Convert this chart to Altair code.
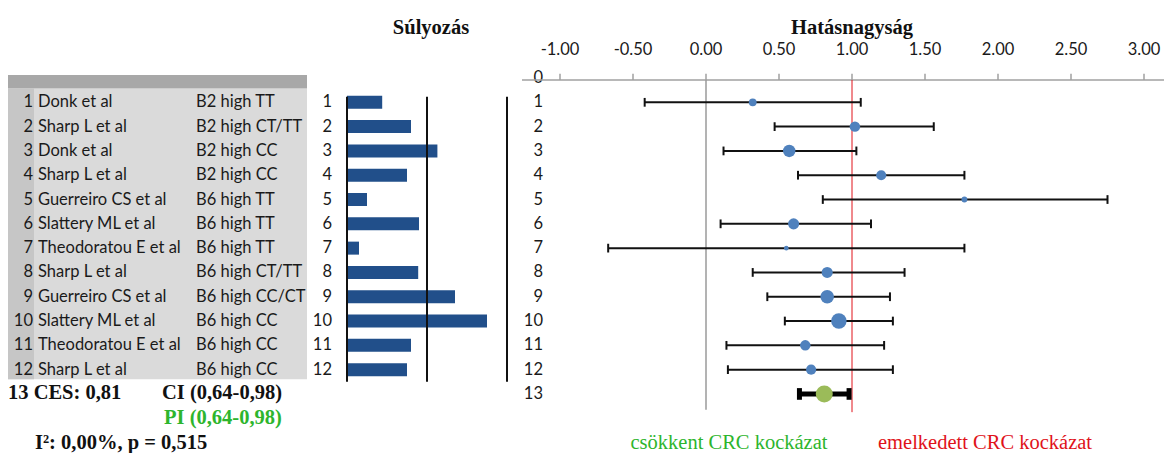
import altair as alt
import pandas as pd

# ---------------- data ----------------
rows = list(range(1, 13))
authors = ["Donk et al", "Sharp L et al", "Donk et al", "Sharp L et al",
           "Guerreiro CS et al", "Slattery ML et al", "Theodoratou E et al",
           "Sharp L et al", "Guerreiro CS et al", "Slattery ML et al",
           "Theodoratou E et al", "Sharp L et al"]
genotypes = ["B2 high  TT", "B2 high CT/TT", "B2 high CC", "B2 high CC",
             "B6 high TT", "B6 high TT", "B6 high TT", "B6 high CT/TT",
             "B6 high CC/CT", "B6 high CC", "B6 high CC", "B6 high CC"]
weights = [4.4, 8.0, 11.3, 7.5, 2.5, 9.0, 1.5, 8.9, 13.5, 17.5, 8.0, 7.5]
effects = [0.32, 1.02, 0.57, 1.20, 1.77, 0.60, 0.55, 0.83, 0.83, 0.91, 0.68, 0.72]
ci_low = [-0.42, 0.47, 0.12, 0.63, 0.80, 0.10, -0.67, 0.32, 0.42, 0.54, 0.14, 0.15]
ci_high = [1.06, 1.56, 1.03, 1.77, 2.75, 1.13, 1.77, 1.36, 1.26, 1.28, 1.22, 1.28]

pooled_row = [13]
pooled_est = [0.81]
pooled_lo = [0.64]
pooled_hi = [0.98]

forest_rows = list(range(0, 14))
tick_values = [-1.0, -0.5, 0.0, 0.5, 1.0, 1.5, 2.0, 2.5, 3.0]
tick_labels = ["-1.00", "-0.50", "0.00", "0.50", "1.00", "1.50", "2.00", "2.50", "3.00"]
weight_guides = [0, 10, 20]

studies = pd.DataFrame({"row": rows, "author": authors, "geno": genotypes,
                        "w": weights, "est": effects, "lo": ci_low, "hi": ci_high})
pooled = pd.DataFrame({"row": pooled_row, "est": pooled_est, "lo": pooled_lo, "hi": pooled_hi})
frows = pd.DataFrame({"row": forest_rows, "lab": [str(r) for r in forest_rows]})
ticks = pd.DataFrame({"v": tick_values, "lab": tick_labels})
wguides = pd.DataFrame({"g": weight_guides})

# ---------------- scales ----------------
Y = alt.Scale(domain=[-3.21, 15.43], reverse=True, nice=False, zero=False)
XF = alt.Scale(domain=[-1, 3], range=[560, 1144], nice=False, zero=False)
XW = alt.Scale(domain=[0, 20], range=[347, 507], nice=False, zero=False)

SANS = "Lato"
SERIF = "Liberation Serif"
FS = 16.5
SFS = 20.5


def y(field="row"):
    return alt.Y(field, type="quantitative", scale=Y, axis=None)


layers = []

# table background
bg = pd.DataFrame({"a": [-0.12], "b": [12.4]})
layers.append(alt.Chart(bg).mark_rect(color="#dadada").encode(
    x=alt.value(8), x2=alt.value(307), y=y("a"), y2="b"))
hdr = pd.DataFrame({"a": [-0.12], "b": [0.42]})
layers.append(alt.Chart(hdr).mark_rect(color="#a8a8a8").encode(
    x=alt.value(8), x2=alt.value(307), y=y("a"), y2="b"))
lcol = pd.DataFrame({"a": [0.42], "b": [12.4]})
layers.append(alt.Chart(lcol).mark_rect(color="#c6c6c6").encode(
    x=alt.value(8), x2=alt.value(34), y=y("a"), y2="b"))

# table text
layers.append(alt.Chart(studies).mark_text(align="right", baseline="middle", font=SANS,
                                           fontSize=FS, color="#1a1a1a").encode(
    x=alt.value(33), y=y(), text="row:N"))
layers.append(alt.Chart(studies).mark_text(align="left", baseline="middle", font=SANS,
                                           fontSize=FS, color="#1a1a1a").encode(
    x=alt.value(38), y=y(), text="author:N"))
layers.append(alt.Chart(studies).mark_text(align="left", baseline="middle", font=SANS,
                                           fontSize=FS, color="#1a1a1a").encode(
    x=alt.value(196), y=y(), text="geno:N"))

# weight panel
layers.append(alt.Chart(studies).mark_text(align="right", baseline="middle", font=SANS,
                                           fontSize=FS, color="#1a1a1a").encode(
    x=alt.value(332), y=y(), text="row:N"))
layers.append(alt.Chart(studies).mark_rule(color="#214f8a", strokeWidth=13, strokeCap="butt").encode(
    x=alt.X("zero:Q", scale=XW, axis=None), x2="w:Q", y=y()
).transform_calculate(zero="0"))
layers.append(alt.Chart(wguides).mark_rule(color="#111111", strokeWidth=2).encode(
    x=alt.X("g:Q", scale=XW, axis=None), y=y("a"), y2="b"
).transform_calculate(a="0.77", b="12.5"))

# forest panel: row numbers
layers.append(alt.Chart(frows).mark_text(align="right", baseline="middle", font=SANS,
                                         fontSize=FS, color="#1a1a1a").encode(
    x=alt.value(543), y=y(), text="lab:N"))

# axis line, ticks, labels
layers.append(alt.Chart(pd.DataFrame({"row": [0.08]})).mark_rule(color="#a0a0a0", strokeWidth=1.5).encode(
    x=alt.value(522), x2=alt.value(1164), y=y()))
layers.append(alt.Chart(ticks).mark_rule(color="#a0a0a0", strokeWidth=1.5).encode(
    x=alt.X("v:Q", scale=XF, axis=None), y=y("a"), y2="b"
).transform_calculate(a="0.08", b="-0.18"))
layers.append(alt.Chart(ticks).mark_text(align="center", baseline="middle", font=SANS,
                                         fontSize=FS, color="#1a1a1a").encode(
    x=alt.X("v:Q", scale=XF, axis=None), y=y("r"), text="lab:N"
).transform_calculate(r="-1.15"))

# reference lines
layers.append(alt.Chart(pd.DataFrame({"v": [0.0]})).mark_rule(color="#9a9a9a", strokeWidth=1.5).encode(
    x=alt.X("v:Q", scale=XF, axis=None), y=y("a"), y2="b"
).transform_calculate(a="0.08", b="13.65"))
layers.append(alt.Chart(pd.DataFrame({"v": [1.0]})).mark_rule(color="#e0121a", strokeWidth=1).encode(
    x=alt.X("v:Q", scale=XF, axis=None), y=y("a"), y2="b"
).transform_calculate(a="0.08", b="13.75"))

# study CIs
layers.append(alt.Chart(studies).mark_rule(color="#111111", strokeWidth=2).encode(
    x=alt.X("lo:Q", scale=XF, axis=None), x2="hi:Q", y=y()))
for f in ["lo", "hi"]:
    layers.append(alt.Chart(studies).mark_rule(color="#111111", strokeWidth=2).encode(
        x=alt.X(f"{f}:Q", scale=XF, axis=None), y=y("a"), y2="b"
    ).transform_calculate(a="datum.row - 0.18", b="datum.row + 0.18"))

# pooled CI
layers.append(alt.Chart(pooled).mark_rule(color="#000000", strokeWidth=5).encode(
    x=alt.X("lo:Q", scale=XF, axis=None), x2="hi:Q", y=y()))
for f in ["lo", "hi"]:
    layers.append(alt.Chart(pooled).mark_rule(color="#000000", strokeWidth=5).encode(
        x=alt.X(f"{f}:Q", scale=XF, axis=None), y=y("a"), y2="b"
    ).transform_calculate(a="datum.row - 0.24", b="datum.row + 0.24"))

# points
layers.append(alt.Chart(studies).mark_circle(color="#4f81bd", opacity=1).encode(
    x=alt.X("est:Q", scale=XF, axis=None), y=y(),
    size=alt.Size("w:Q", scale=alt.Scale(domain=[0, 17.5], range=[0, 240]), legend=None)))
layers.append(alt.Chart(pooled).mark_circle(color="#9bbb59", opacity=1, size=290).encode(
    x=alt.X("est:Q", scale=XF, axis=None), y=y()))

# titles
titles = pd.DataFrame({"row": [-2.05]})
layers.append(alt.Chart(titles).mark_text(text="Súlyozás", font=SERIF, fontWeight="bold",
                                          fontSize=SFS, color="#111111", align="center",
                                          baseline="middle").encode(x=alt.value(431), y=y()))
layers.append(alt.Chart(titles).mark_text(text="Hatásnagyság", font=SERIF, fontWeight="bold",
                                          fontSize=SFS, color="#111111", align="center",
                                          baseline="middle").encode(x=alt.value(852), y=y()))

# summary statistics text
stat_lines = [
    ("13 CES: 0,81", 8, 12.95, "#111111"),
    ("CI (0,64-0,98)", 162, 12.95, "#111111"),
    ("PI (0,64-0,98)", 164, 14.0, "#2db52d"),
    ("I²: 0,00%, p = 0,515", 35, 15.0, "#111111"),
]
for txt, xp, rw, col in stat_lines:
    layers.append(alt.Chart(pd.DataFrame({"row": [rw]})).mark_text(
        text=txt, font=SERIF, fontWeight="bold", fontSize=SFS, color=col,
        align="left", baseline="middle").encode(x=alt.value(xp), y=y()))

# direction labels
dir_df = pd.DataFrame({"row": [15.0]})
layers.append(alt.Chart(dir_df).mark_text(text="csökkent CRC kockázat", font=SERIF, fontSize=SFS,
                                          color="#2db52d", align="center", baseline="middle").encode(
    x=alt.value(729), y=y()))
layers.append(alt.Chart(dir_df).mark_text(text="emelkedett CRC kockázat", font=SERIF, fontSize=SFS,
                                          color="#e0121a", align="center", baseline="middle").encode(
    x=alt.value(985), y=y()))

chart = alt.layer(*layers).resolve_scale(x="independent", size="independent").properties(
    width=1164, height=453, padding=0, autosize=alt.AutoSizeParams(type="none"),
    background="white"
).configure_view(stroke=None)

chart.save("out.html", embed_options={"renderer": "svg", "actions": False})
